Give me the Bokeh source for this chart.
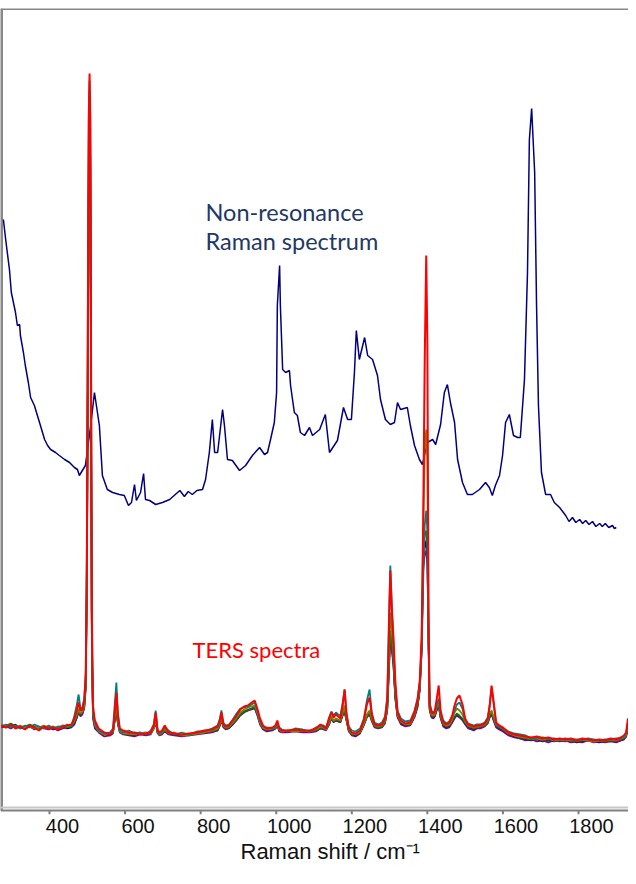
from bokeh.plotting import figure
from bokeh.models import Range1d, LinearAxis, FixedTicker, Span, Title
from bokeh.core.properties import value
from bokeh.embed import file_html
from bokeh.resources import INLINE

# ---------------- data ----------------
tick_values = [400, 600, 800, 1000, 1200, 1400, 1600, 1800]

# Non-resonance Raman spectrum (wavenumber, intensity a.u.)
nr_x = [278, 284, 294, 299, 310, 315, 321, 323, 331, 336, 344, 350, 360, 368, 376, 387, 395, 403, 416, 426,
        440, 453, 466, 474, 479, 487, 495, 509, 519, 532, 540, 553, 567, 585, 598, 609, 617, 625, 630, 641,
        649, 654, 665, 681, 699, 718, 733, 745, 757, 767, 778, 790, 805, 813, 823, 831, 837, 845, 858, 863, 871, 884, 903,
        919, 937, 956, 969, 977, 985, 995, 1001, 1003, 1009, 1011, 1017, 1025, 1035, 1038, 1048, 1056, 1064, 1075, 1088,
        1096, 1115, 1130, 1141, 1162, 1178, 1189, 1199, 1207, 1212, 1220, 1234, 1242, 1255, 1268, 1276, 1289, 1302, 1313, 1321,
        1329, 1347, 1355, 1366, 1379, 1387, 1400, 1414, 1422, 1435, 1445, 1453, 1461, 1472, 1480, 1493, 1506, 1519, 1538, 1554,
        1564, 1572, 1580, 1591, 1599, 1607, 1617, 1628, 1639, 1646, 1657, 1665, 1670, 1676, 1684, 1689, 1694, 1702, 1713, 1726,
        1736, 1750, 1766, 1775, 1784, 1793, 1803, 1811, 1819, 1828, 1837, 1846, 1856, 1863, 1871, 1880, 1890, 1895, 1900]
nr_y = [591, 571, 541, 518, 498, 485, 486, 475, 458, 445, 428, 413, 405, 395, 385, 371, 365, 361, 358, 355,
        351, 348, 343, 341, 335, 340, 345, 385, 418, 385, 335, 321, 318, 316, 315, 305, 308, 326, 310, 318,
        337, 311, 310, 306, 308, 311, 316, 320, 314, 319, 316, 320, 321, 331, 358, 391, 358, 358, 401, 385, 351, 350, 340,
        345, 355, 363, 356, 358, 371, 388, 418, 505, 545, 505, 441, 438, 440, 425, 398, 395, 378, 375, 383,
        375, 381, 396, 358, 370, 403, 391, 391, 438, 480, 451, 473, 455, 451, 435, 411, 391, 386, 388, 408,
        401, 403, 385, 365, 351, 346, 368, 371, 366, 386, 418, 426, 408, 388, 351, 328, 316, 316, 321, 328,
        323, 315, 325, 335, 355, 388, 396, 375, 373, 373, 431, 538, 671, 702, 638, 505, 405, 338, 316, 316,
        308, 303, 295, 289, 293, 288, 291, 287, 290, 286, 289, 284, 287, 284, 287, 283, 285, 282, 283]

# TERS spectra: common wavenumber grid
ters_x = [273, 285, 298, 310, 322, 335, 348, 360, 372, 385,
          398, 410, 422, 435, 447, 458, 466, 472, 477, 482,
          487, 492, 496, 499, 502, 504, 506, 508, 510, 512,
          515, 520, 530, 545, 560, 568, 573, 577, 581, 586,
          595, 610, 625, 640, 655, 668, 676, 681, 686, 691,
          698, 705, 715, 730, 750, 770, 790, 810, 830, 845,
          851, 855, 860, 866, 875, 885, 895, 905, 915, 925,
          935, 943, 950, 957, 965, 975, 990, 998, 1003, 1008,
          1015, 1030, 1050, 1070, 1090, 1105, 1117, 1125, 1132, 1140,
          1146, 1152, 1158, 1164, 1170, 1176, 1181, 1186, 1192, 1200,
          1210, 1222, 1232, 1240, 1247, 1253, 1260, 1270, 1280, 1288,
          1294, 1298, 1302, 1306, 1310, 1315, 1321, 1330, 1342, 1355,
          1366, 1374, 1380, 1385, 1389, 1393, 1397, 1400, 1403, 1406,
          1411, 1416, 1420, 1425, 1430, 1435, 1442, 1450, 1458, 1466,
          1472, 1478, 1485, 1493, 1500, 1508, 1516, 1523, 1530, 1540,
          1552, 1560, 1565, 1570, 1575, 1582, 1590, 1600, 1615, 1630,
          1645, 1660, 1675, 1690, 1705, 1720, 1735, 1750, 1765, 1780,
          1795, 1810, 1825, 1840, 1855, 1870, 1885, 1900, 1912, 1920,
          1926, 1931]

ters_navy = [85, 83, 84, 86, 82, 83, 85, 82, 84, 83,
             83, 81, 82, 84, 82, 83, 86, 93, 99, 95,
             97, 103, 124, 225, 475, 645, 715, 650, 410, 175,
             94, 84, 79, 76, 75, 78, 91, 99, 87, 79,
             77, 76, 75, 77, 76, 77, 82, 89, 78, 76,
             77, 79, 77, 76, 75, 76, 77, 78, 79, 80,
             85, 91, 84, 82, 83, 86, 91, 96, 99, 100,
             102, 103, 96, 87, 82, 80, 81, 82, 85, 80,
             79, 79, 80, 79, 79, 80, 82, 82, 81, 86,
             92, 89, 90, 89, 89, 96, 99, 90, 80, 76,
             75, 78, 86, 94, 97, 90, 84, 83, 84, 88,
             102, 138, 178, 162, 148, 113, 94, 87, 85, 86,
             94, 104, 121, 162, 245, 262, 270, 255, 168, 101,
             94, 93, 95, 101, 105, 93, 85, 83, 84, 89,
             93, 96, 94, 91, 87, 83, 82, 81, 82, 83,
             85, 88, 94, 97, 91, 84, 82, 80, 76, 74,
             72, 71, 70, 71, 69, 70, 69, 70, 69, 70,
             68, 69, 70, 69, 68, 69, 70, 69, 70, 71,
             74, 83]

ters_purple = [83, 84, 82, 85, 83, 82, 84, 81, 83, 82,
               81, 83, 80, 82, 83, 84, 87, 92, 98, 94,
               96, 102, 122, 220, 470, 640, 700, 630, 390, 165,
               92, 82, 78, 74, 75, 77, 90, 98, 86, 78,
               76, 75, 74, 76, 75, 76, 82, 88, 77, 75,
               76, 79, 76, 75, 74, 75, 76, 77, 78, 80,
               85, 90, 83, 81, 82, 86, 90, 95, 98, 100,
               101, 102, 95, 86, 81, 79, 80, 82, 85, 79,
               78, 78, 79, 78, 78, 79, 82, 81, 80, 86,
               92, 88, 90, 89, 88, 95, 98, 90, 79, 75,
               74, 77, 85, 93, 96, 89, 83, 82, 83, 87,
               100, 135, 175, 160, 145, 112, 93, 86, 84, 85,
               93, 103, 120, 160, 240, 255, 260, 245, 165, 100,
               93, 92, 94, 100, 104, 92, 84, 82, 83, 88,
               92, 95, 93, 90, 86, 82, 81, 80, 82, 82,
               84, 87, 93, 96, 90, 83, 81, 79, 75, 73,
               72, 70, 71, 69, 70, 68, 70, 69, 70, 68,
               69, 68, 70, 68, 69, 68, 69, 68, 70, 71,
               74, 82]

ters_green = [84, 85, 87, 84, 83, 84, 86, 84, 82, 83,
              84, 82, 83, 85, 83, 84, 88, 94, 100, 96,
              98, 104, 125, 230, 480, 650, 710, 640, 400, 170,
              95, 85, 80, 77, 76, 78, 92, 100, 88, 80,
              78, 76, 77, 78, 76, 78, 83, 90, 78, 77,
              77, 80, 78, 76, 76, 75, 77, 79, 79, 81,
              86, 92, 84, 82, 83, 87, 91, 96, 99, 101,
              102, 104, 97, 88, 82, 81, 81, 83, 86, 81,
              80, 79, 80, 79, 80, 80, 83, 82, 82, 87,
              93, 89, 91, 90, 89, 96, 100, 91, 80, 76,
              76, 78, 86, 94, 98, 90, 84, 83, 84, 88,
              102, 140, 180, 165, 150, 115, 95, 88, 86, 86,
              95, 105, 122, 165, 250, 275, 280, 260, 170, 102,
              95, 94, 96, 102, 106, 94, 86, 84, 85, 90,
              94, 97, 95, 92, 88, 84, 83, 82, 83, 84,
              85, 88, 95, 98, 92, 85, 83, 81, 77, 75,
              73, 72, 71, 72, 70, 71, 70, 70, 71, 70,
              69, 70, 71, 69, 70, 69, 70, 70, 71, 72,
              75, 84]

ters_olive = [86, 84, 85, 83, 85, 83, 84, 82, 83, 85,
              83, 84, 82, 85, 84, 85, 90, 96, 102, 97,
              99, 106, 128, 240, 500, 670, 720, 660, 420, 180,
              98, 86, 79, 76, 77, 79, 95, 105, 90, 79,
              77, 77, 76, 77, 78, 77, 82, 92, 79, 76,
              78, 82, 77, 78, 75, 76, 77, 78, 80, 82,
              87, 94, 85, 83, 84, 88, 93, 98, 101, 103,
              104, 105, 98, 88, 83, 81, 82, 83, 87, 81,
              79, 80, 79, 80, 79, 81, 84, 83, 81, 88,
              94, 90, 92, 91, 90, 98, 105, 92, 81, 77,
              76, 79, 87, 96, 100, 92, 85, 84, 85, 90,
              105, 150, 198, 180, 160, 120, 96, 89, 86, 87,
              96, 108, 125, 170, 280, 360, 381, 350, 190, 103,
              96, 95, 97, 104, 110, 96, 87, 85, 86, 92,
              98, 102, 100, 96, 89, 85, 84, 83, 84, 84,
              86, 90, 98, 100, 94, 86, 84, 82, 77, 75,
              74, 73, 72, 72, 71, 72, 70, 71, 70, 71,
              70, 71, 70, 69, 70, 70, 71, 70, 72, 73,
              76, 86]

ters_teal = [84, 86, 83, 85, 82, 85, 83, 86, 84, 82,
             85, 82, 84, 83, 86, 84, 95, 105, 116, 102,
             103, 112, 140, 280, 560, 700, 730, 680, 430, 190,
             100, 88, 80, 77, 78, 82, 108, 128, 98, 80,
             78, 80, 77, 78, 76, 80, 86, 100, 81, 77,
             79, 83, 80, 76, 78, 76, 79, 79, 82, 85,
             92, 100, 88, 85, 86, 91, 97, 102, 103, 104,
             106, 108, 100, 90, 84, 83, 82, 84, 88, 83,
             81, 79, 82, 81, 79, 83, 85, 85, 83, 93,
             99, 95, 98, 96, 95, 108, 121, 97, 84, 80,
             79, 82, 92, 110, 121, 98, 88, 86, 88, 94,
             115, 190, 245, 205, 170, 125, 100, 92, 89, 90,
             100, 112, 128, 160, 230, 285, 300, 280, 180, 108,
             100, 98, 99, 106, 112, 98, 90, 87, 89, 94,
             100, 106, 108, 102, 90, 87, 86, 85, 86, 86,
             88, 93, 105, 123, 108, 87, 84, 82, 79, 77,
             76, 75, 72, 73, 73, 72, 72, 71, 72, 71,
             71, 71, 72, 71, 70, 71, 71, 72, 72, 74,
             77, 88]

ters_red = [85, 83, 86, 82, 84, 81, 85, 83, 80, 84,
            82, 83, 81, 84, 85, 86, 92, 100, 108, 100,
            101, 110, 135, 250, 520, 690, 737, 690, 450, 200,
            105, 90, 82, 78, 76, 80, 100, 118, 95, 82,
            80, 78, 78, 76, 77, 78, 85, 98, 80, 78,
            80, 85, 78, 77, 76, 77, 78, 80, 81, 84,
            90, 98, 86, 84, 85, 90, 95, 101, 104, 105,
            108, 110, 102, 92, 85, 82, 83, 85, 90, 82,
            80, 80, 81, 80, 80, 82, 86, 84, 82, 92,
            98, 93, 96, 94, 92, 105, 121, 96, 82, 78,
            77, 80, 90, 106, 113, 95, 86, 85, 86, 92,
            110, 170, 240, 200, 175, 130, 98, 90, 87, 88,
            98, 110, 130, 175, 290, 450, 555, 470, 200, 105,
            98, 97, 100, 112, 125, 100, 88, 86, 88, 95,
            105, 112, 115, 106, 92, 86, 85, 84, 85, 85,
            87, 92, 105, 125, 110, 88, 85, 83, 78, 76,
            75, 74, 73, 74, 72, 73, 71, 72, 71, 72,
            70, 72, 71, 70, 71, 70, 72, 71, 73, 75,
            78, 92]

ters_series = [
    (ters_navy, "#000080", 1.6),
    (ters_purple, "#800080", 1.6),
    (ters_green, "#008000", 1.6),
    (ters_olive, "#808000", 1.8),
    (ters_teal, "#008080", 1.8),
    (ters_red, "#FF0000", 2.0),
]

# ---------------- figure ----------------
K = 529.0 / 1400.0           # px per cm-1
X0 = 400 - 49 / K            # left edge of frame
X1 = 1800 + 50 / K           # right edge
SHIFT = 13 / K               # label offset of the reference
TICK = 4                     # tick length (px == data units on y)

p = figure(width=628, height=868,
           x_range=Range1d(X0, X1), y_range=Range1d(-TICK, 802),
           output_backend="svg", toolbar_location=None,
           x_axis_location=None, y_axis_location=None,
           min_border_left=0, min_border_right=0, min_border_top=8, min_border_bottom=54)
p.outline_line_color = None
p.grid.grid_line_color = None
p.background_fill_color = "white"
p.border_fill_color = "white"
p.extra_x_ranges = {"lab": Range1d(X0 - SHIFT, X1 - SHIFT)}

# tick labels (shifted a little to the right, as in the reference)
ax_lab = LinearAxis(x_range_name="lab", ticker=FixedTicker(ticks=tick_values))
ax_lab.axis_line_color = None
ax_lab.major_tick_line_color = None
ax_lab.minor_tick_line_color = None
ax_lab.major_tick_out = 0
ax_lab.major_tick_in = 0
ax_lab.minor_tick_out = 0
ax_lab.minor_tick_in = 0
ax_lab.major_label_standoff = 4
ax_lab.major_label_text_font = "Liberation Sans"
ax_lab.major_label_text_font_size = "20px"
ax_lab.major_label_text_color = "#111111"
p.add_layout(ax_lab, "below")

p.add_layout(Title(text="Raman shift / cm\u207b\u00b9", align="left", offset=240, standoff=2,
                   text_font="Liberation Sans", text_font_size="22px",
                   text_font_style="normal", text_color="#111111"), "below")

# axis line, tick marks and frame borders
p.segment(x0=tick_values, y0=[0] * len(tick_values), x1=tick_values, y1=[-TICK] * len(tick_values),
          line_color="#7f7f7f", line_width=2)
p.add_layout(Span(location=0, dimension="width", line_color="#7f7f7f", line_width=2))
p.add_layout(Span(location=3, dimension="width", line_color="#c8c8c8", line_width=2))
p.add_layout(Span(location=802, dimension="width", line_color="#888888", line_width=3))
p.segment(x0=[X0 + 1.0 / K], y0=[0], x1=[X0 + 1.0 / K], y1=[802], line_color="#888888", line_width=3)

# spectra
p.line(nr_x, nr_y, line_color="#000080", line_width=1.5)
for ys, col, w in ters_series:
    n = min(len(ters_x), len(ys))
    p.line(ters_x[:n], ys[:n], line_color=col, line_width=w)

# annotations
p.text(x=[400 + (213 - 57) / K, 400 + (213 - 57) / K], y=[599, 570],
       text=["Non-resonance", "Raman spectrum"],
       text_font=value("Lato"), text_font_size="23.5px", text_color="#1F3864",
       text_baseline="alphabetic", text_align="left")
p.text(x=[400 + (200 - 57) / K], y=[161], text=["TERS spectra"],
       text_font=value("Lato"), text_font_size="22px", text_color="#FF0000",
       text_baseline="alphabetic", text_align="left")

open("out.html", "w").write(file_html(p, INLINE))
